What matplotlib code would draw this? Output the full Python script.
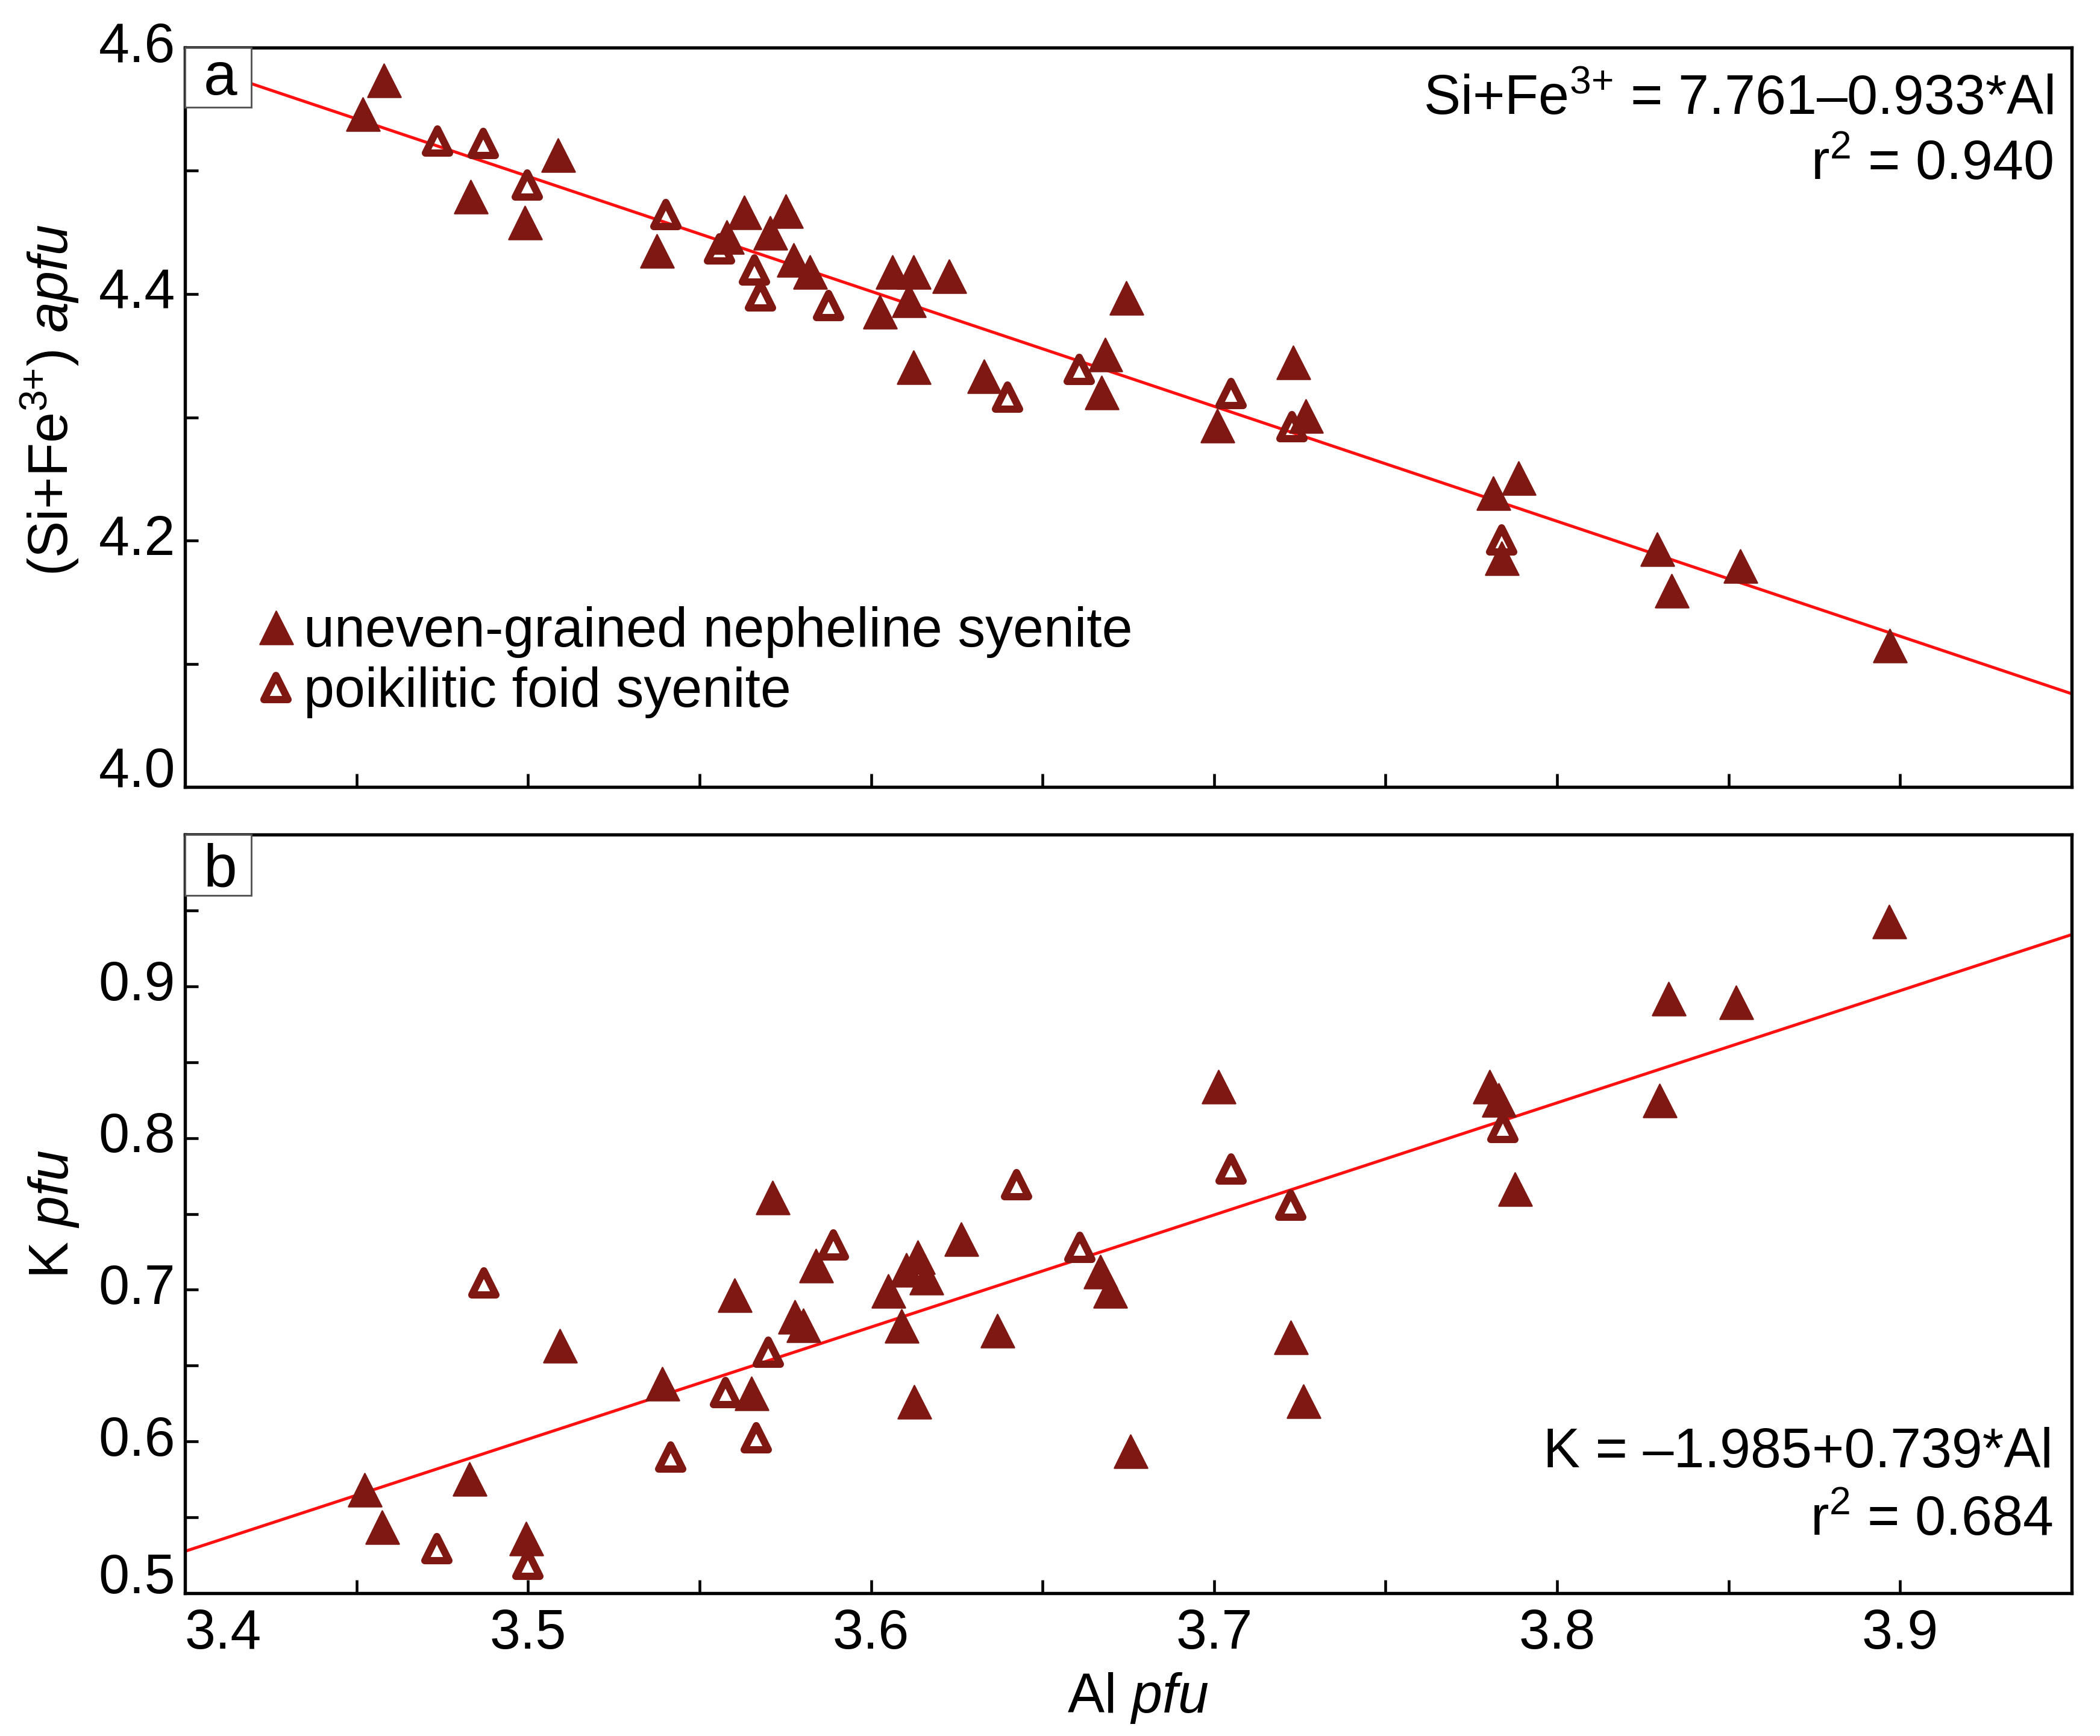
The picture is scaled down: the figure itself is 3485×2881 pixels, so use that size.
import numpy as np
import matplotlib
matplotlib.use("Agg")
import matplotlib.pyplot as plt
from matplotlib.patches import Rectangle
from matplotlib.markers import MarkerStyle
from matplotlib.transforms import ScaledTranslation

plt.rcParams['font.family'] = ['Liberation Sans', 'DejaVu Sans']
plt.rcParams['mathtext.fontset'] = 'custom'
plt.rcParams['mathtext.rm'] = 'Liberation Sans'
plt.rcParams['mathtext.it'] = 'Liberation Sans:italic'
plt.rcParams['mathtext.bf'] = 'Liberation Sans:bold'

# ---------------- data ----------------
# panel a: (Si+Fe3+) vs Al
al_a_uneven = [3.4518, 3.4580, 3.4833, 3.4990, 3.5087, 3.5375, 3.5580, 3.5631,
               3.5705, 3.5751, 3.5774, 3.5822, 3.6025, 3.6063, 3.6110, 3.6123,
               3.6123, 3.6228, 3.6330, 3.6672, 3.6682, 3.6744, 3.7009, 3.7231,
               3.7267, 3.7814, 3.7888, 3.7838, 3.8292, 3.8333, 3.8534, 3.8970]
si_uneven = [4.5462, 4.5738, 4.4790, 4.4582, 4.5129, 4.4352, 4.4465, 4.4666,
             4.4499, 4.4675, 4.4280, 4.4180, 4.3860, 4.4180, 4.3950, 4.4180,
             4.3410, 4.4146, 4.3336, 4.3204, 4.3509, 4.3971, 4.2933, 4.3445,
             4.3014, 4.2387, 4.2507, 4.1858, 4.1930, 4.1592, 4.1795, 4.1147]
al_a_poik = [3.4736, 3.4870, 3.4998, 3.5401, 3.5558, 3.5660, 3.5678, 3.5876,
             3.6398, 3.6607, 3.7050, 3.7227, 3.7838]
si_poik = [4.5240, 4.5223, 4.4887, 4.4646, 4.4367, 4.4197, 4.3987, 4.3906,
           4.3166, 4.3390, 4.3191, 4.2925, 4.2007]

# panel b: K vs Al
al_b_uneven = [3.4524, 3.4574, 3.4830, 3.4994, 3.5093, 3.5391, 3.5602, 3.5652,
               3.5713, 3.5778, 3.5803, 3.5839, 3.6050, 3.6088, 3.6102, 3.6136,
               3.6161, 3.6125, 3.6262, 3.6368, 3.6669, 3.6696, 3.6757, 3.7012,
               3.7223, 3.7260, 3.7803, 3.7829, 3.7876, 3.8298, 3.8324, 3.8522,
               3.8968]
k_uneven = [0.5682, 0.5438, 0.5755, 0.5361, 0.6632, 0.6381, 0.6964, 0.6317,
            0.7609, 0.6823, 0.6766, 0.7159, 0.6993, 0.6763, 0.7133, 0.7216,
            0.7083, 0.6261, 0.7337, 0.6733, 0.7122, 0.6992, 0.5938, 0.8341,
            0.6687, 0.6267, 0.8341, 0.8253, 0.7664, 0.8250, 0.8920, 0.8897,
            0.9427]
al_b_poik = [3.4735, 3.4871, 3.5000, 3.5416, 3.5575, 3.5665, 3.5701, 3.5890,
             3.6424, 3.6609, 3.7049, 3.7223, 3.7841]
k_poik = [0.5295, 0.7046, 0.5189, 0.5896, 0.6324, 0.6025, 0.6588, 0.7297,
          0.7692, 0.7278, 0.7794, 0.7558, 0.8070]

# regression coefficients
si_intercept, si_slope, si_r2 = 7.761, -0.933, 0.940
k_intercept, k_slope, k_r2 = -1.985, 0.739, 0.684

x_ticks = [3.4, 3.5, 3.6, 3.7, 3.8, 3.9]
x_minor = [3.45, 3.55, 3.65, 3.75, 3.85, 3.95]
ya_ticks = [4.0, 4.2, 4.4, 4.6]
ya_minor = [4.1, 4.3, 4.5]
yb_ticks = [0.5, 0.6, 0.7, 0.8, 0.9]
yb_minor = [0.55, 0.65, 0.75, 0.85, 0.95]

labels = ['uneven-grained nepheline syenite', 'poikilitic foid syenite']

# ---------------- style ----------------
DARK = '#7f1712'
FS = 22
W, H = 3486, 2881
DPI = 300

fig = plt.figure(figsize=(W / DPI, H / DPI), dpi=DPI)
ax_a = fig.add_axes([307 / W, 1 - 1306 / H, 3131 / W, 1227 / H])
ax_b = fig.add_axes([307 / W, 1 - 2644 / H, 3131 / W, 1259 / H])

filled_kw = dict(linestyle='none', marker=MarkerStyle('^', joinstyle='round'),
                 markersize=13.2, markerfacecolor=DARK, markeredgecolor=DARK,
                 markeredgewidth=0.6, zorder=4)
open_kw = dict(linestyle='none', marker=MarkerStyle('^', joinstyle='round'),
               markersize=9.8, markerfacecolor='none', markeredgecolor=DARK,
               markeredgewidth=2.9, zorder=3)

xlim = (3.4, 3.95)
xfit = np.array(xlim)


def style_axes(ax, ylim, yt, ym, show_x):
    ax.set_xlim(*xlim)
    ax.set_ylim(*ylim)
    for s in ax.spines.values():
        s.set_linewidth(1.3)
    ax.set_xticks(x_ticks)
    ax.set_xticks(x_minor, minor=True)
    ax.set_yticks(yt)
    ax.set_yticks(ym, minor=True)
    ax.tick_params(which='both', direction='in', length=5.3, width=1.1,
                   top=False, right=False, labelsize=FS)
    ax.tick_params(axis='y', which='major', pad=3.8)
    ax.tick_params(axis='x', which='major', pad=6.0, labelbottom=show_x)
    ax.yaxis.set_major_formatter(matplotlib.ticker.FormatStrFormatter('%.1f'))
    ax.xaxis.set_major_formatter(matplotlib.ticker.FormatStrFormatter('%.1f'))


LINE_COLOR = '#ff1010'

# panel a
ax_a.plot(xfit, si_intercept + si_slope * xfit, color=LINE_COLOR, lw=1.2, zorder=2)
h_open, = ax_a.plot(al_a_poik, si_poik, **open_kw)
h_fill, = ax_a.plot(al_a_uneven, si_uneven, **filled_kw)
style_axes(ax_a, (4.0, 4.6), ya_ticks, ya_minor, False)
ax_a.set_ylabel(r'(Si+Fe$^{3{+}}$) $\mathit{apfu}$', fontsize=FS)
ax_a.yaxis.set_label_coords(-0.0553, 0.523)

leg = ax_a.legend([h_fill, h_open], labels, loc='upper left',
                  bbox_to_anchor=(0.0394, 0.2445), frameon=False, fontsize=FS,
                  borderpad=0, borderaxespad=0, handlelength=0.6,
                  handletextpad=0.2, labelspacing=0.15)

ax_a.text(0.990, 0.9095, r'Si+Fe$^{3{+}}$ = %.3f–%.3f*Al' % (si_intercept, -si_slope),
          transform=ax_a.transAxes, ha='right', va='baseline', fontsize=FS)
ax_a.text(0.990, 0.8215, r'r$^2$ = %.3f' % si_r2,
          transform=ax_a.transAxes, ha='right', va='baseline', fontsize=FS)

# panel b
ax_b.plot(xfit, k_intercept + k_slope * xfit, color=LINE_COLOR, lw=1.2, zorder=2)
ax_b.plot(al_b_poik, k_poik, **open_kw)
ax_b.plot(al_b_uneven, k_uneven, **filled_kw)
style_axes(ax_b, (0.5, 1.0), yb_ticks, yb_minor, True)
ax_b.set_ylabel(r'K $\mathit{pfu}$', fontsize=FS)
ax_b.yaxis.set_label_coords(-0.0553, 0.5)
ax_b.set_xlabel(r'Al $\mathit{pfu}$', fontsize=FS)
ax_b.xaxis.set_label_coords(0.505, -0.1025)

ax_b.text(0.990, 0.1658, r'K = –%.3f+%.3f*Al' % (-k_intercept, k_slope),
          transform=ax_b.transAxes, ha='right', va='baseline', fontsize=FS)
ax_b.text(0.990, 0.0763, r'r$^2$ = %.3f' % k_r2,
          transform=ax_b.transAxes, ha='right', va='baseline', fontsize=FS)

# panel letter boxes
for ax, letter, hfrac, base in [(ax_a, 'a', 99 / 1227, 0.9364), (ax_b, 'b', 101 / 1259, 0.9311)]:
    wfrac = 110 / 3131
    rect = Rectangle((0, 1 - hfrac), wfrac, hfrac, transform=ax.transAxes,
                     facecolor='white', edgecolor='#555555', lw=0.7, zorder=6,
                     clip_on=False)
    ax.add_patch(rect)
    ax.text(wfrac / 2 + 0.001, base, letter, transform=ax.transAxes, ha='center',
            va='baseline', fontsize=24, zorder=7)

# tick label fine alignment
fig.canvas.draw()
shift = ScaledTranslation(0, 10 / DPI, fig.dpi_scale_trans)
for ax in (ax_a, ax_b):
    ticks = ax.yaxis.get_major_ticks()
    for i, t in enumerate(ticks):
        if i == 0:
            t.label1.set_va('baseline')
        else:
            t.label1.set_transform(t.label1.get_transform() + shift)
xt = ax_b.xaxis.get_major_ticks()
xt[0].label1.set_ha('left')

fig.savefig('out.png', dpi=DPI)
